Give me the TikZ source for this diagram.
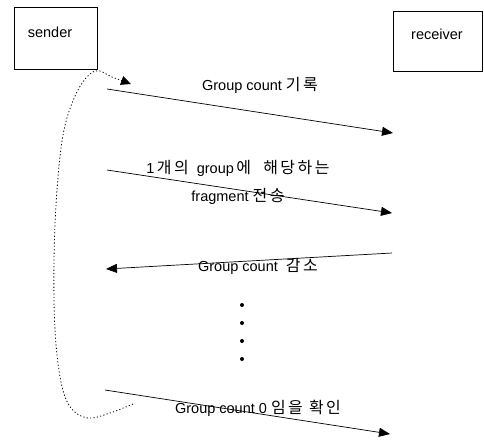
\documentclass[tikz,border=0pt]{standalone}
\usepackage{fontspec}
\setmainfont{Liberation Sans}
\newfontfamily\kr[LetterSpace=16,Scale=1.1]{Noto Sans CJK KR}
\usetikzlibrary{arrows.meta}
\tikzset{
  actor/.style={draw=black, line width=0.7pt, rectangle, inner sep=0pt},
  lbl/.style={font=\fontsize{14.5}{16}\selectfont, inner sep=0pt},
  msg/.style={line width=0.7pt, -{Triangle[length=11pt,width=9pt]}},
  loopline/.style={line width=0.8pt, dash pattern=on 1.2pt off 2.2pt,
                   -{Triangle[length=10pt,width=9pt]}},
  dot/.style={circle, fill=black, inner sep=0pt, minimum size=4pt}
}
\begin{document}
\begin{tikzpicture}[x=1pt,y=-1pt]
\useasboundingbox (0,0) rectangle (484,440);

% participants
\node[actor, minimum width=83pt, minimum height=62pt] (sender) at (55.5,38) {};
\node[lbl] (sendertxt) at (50,32) {sender};
\node[actor, minimum width=89pt, minimum height=60pt] (receiver) at (437.5,41) {};
\node[lbl] (receivertxt) at (437,34) {receiver};

% message end points
\coordinate (m1s) at (107,89);  \coordinate (m1e) at (393,133);
\coordinate (m2s) at (107,170); \coordinate (m2e) at (392,213);
\coordinate (m3s) at (392,253); \coordinate (m3e) at (106,269);
\coordinate (m4s) at (105,390); \coordinate (m4e) at (390,434);

\draw[msg] (m1s) -- (m1e);
\draw[msg] (m2s) -- (m2e);
\draw[msg] (m3s) -- (m3e);
\draw[msg] (m4s) -- (m4e);

% message labels
\node[lbl] (t1) at (260,85) {Group count \kr 기록};
\node[lbl] (t2a) at (238,168) {1\,{\kr 개의} \ group\,{\kr 에 \ 해당하는}};
\node[lbl] (t2b) at (238,196) {fragment \kr 전송};
\node[lbl] (t3) at (258,266) {Group count \ {\kr 감소}};
\node[lbl] (t4) at (258,408) {Group count 0 \kr 임을 확인};

% continuation dots
\foreach \yy [count=\i] in {305,323,341,359}
  \node[dot] (d\i) at (242,\yy) {};

% repeat loop back to the sender
\coordinate (loopstart) at (133,404);
\coordinate (looptip) at (131,84);
\draw[loopline] plot[smooth, tension=0.6] coordinates {
  (loopstart) (110,413) (88,418) (71,408) (61,382) (55,330) (54,260)
  (57,190) (64,130) (78,90) (95,71) (112,77) (looptip)};
\end{tikzpicture}
\end{document}
